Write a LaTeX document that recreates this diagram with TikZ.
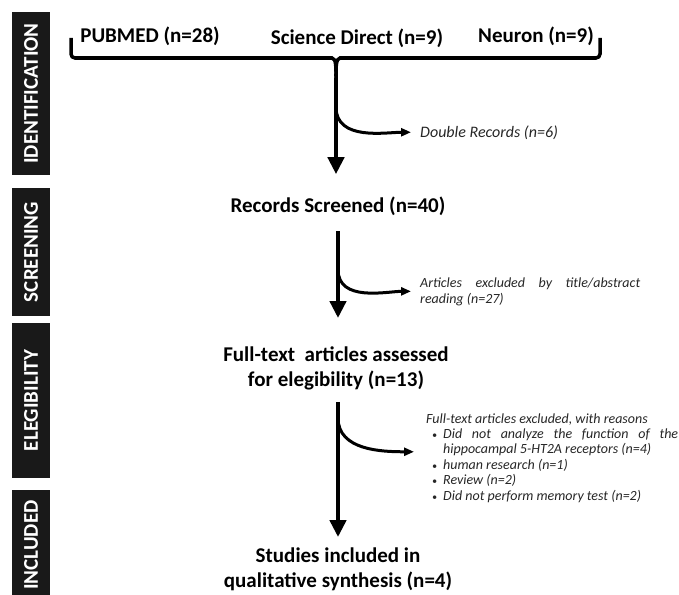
\documentclass[tikz,border=0pt]{standalone}
\usepackage{fontspec}
\setmainfont{Carlito}
\usetikzlibrary{positioning, arrows.meta, calc}

\newcommand{\bul}{\makebox[17pt][l]{\hspace{6pt}{\fontsize{10}{10}\selectfont\textbullet}}}

\tikzset{
  head/.style={font=\fontsize{21}{25}\selectfont\bfseries, inner sep=0pt, align=center, anchor=base},
  note/.style={font=\fontsize{14}{15.4}\selectfont\itshape, inner sep=0pt, align=left, anchor=base west, text=black!85},
  tab/.style={fill=black!90, text=white, font=\fontsize{21}{21}\selectfont\bfseries, rotate=90, minimum height=38pt, inner sep=0pt},
  flow/.style={line width=4.5pt, -{Triangle[width=16pt,length=17pt]}},
  curl/.style={line width=3pt, -{Triangle[width=8pt,length=10pt]}},
  bracket/.style={line width=3.5pt, rounded corners=4pt}
}

\begin{document}
\begin{tikzpicture}[x=1pt, y=-1pt]
  \useasboundingbox (0,0) rectangle (679,594);

  % Phase tabs
  \node[tab, minimum width=163pt] (tabid) at (31,93.5) {IDENTIFICATION};
  \node[tab, minimum width=128pt] (tabscr) at (31,252) {SCREENING};
  \node[tab, minimum width=155pt] (tabelg) at (31,400.5) {ELEGIBILITY};
  \node[tab, minimum width=110pt] (tabinc) at (31,545) {INCLUDED};

  % Sources
  \node[head] (pubmed) at (150,43) {PUBMED (n=28)};
  \node[head] (scidir) at (357,45) {Science Direct (n=9)};
  \node[head] (neuron) at (536,43) {Neuron (n=9)};

  % Bracket
  \coordinate (brl) at (71,38);
  \coordinate (brr) at (600,38);
  \coordinate (brtip) at (336,78);
  \draw[bracket] (brl) |- (328,58) to[out=0, in=90] (brtip);
  \draw[bracket] (brr) |- (344,58) to[out=180, in=90] (brtip);

  % Steps (base = last line)
  \node[head] (screened) at (338,212) {Records Screened (n=40)};
  \node[head] (assessed) at (336,386) {Full-text\ \ articles assessed\\for elegibility (n=13)};
  \node[head] (included) at (338,587) {Studies included in\\qualitative synthesis (n=4)};

  % Exclusions
  \node[note, font=\fontsize{16}{18}\selectfont\itshape] (dbl) at (420,137) {Double Records (n=6)};
  \node[note, font=\fontsize{14}{16}\selectfont\itshape] (abstr) at (420,303)
    {\makebox[220pt][s]{Articles excluded by title/abstract}\\reading (n=27)};
  \node[note] (fulltxt) at (426,500)
    {Full-text articles excluded, with reasons\\
     \bul\makebox[235pt][s]{Did not analyze the function of the}\\
     \hspace*{17pt}hippocampal 5-HT2A receptors (n=4)\\
     \bul human research (n=1)\\
     \bul Review (n=2)\\
     \bul Did not perform memory test (n=2)};

  % Arrows
  \draw[flow, shorten >=22pt] (brtip) -- (brtip |- screened.north);
  \draw[flow, shorten <=16pt, shorten >=28pt] (screened.south) -- (screened.south |- assessed.north);
  \draw[flow, shorten <=12pt, shorten >=10pt] (screened.south |- assessed.south) -- (screened.south |- included.north);

  % Curls
  \draw[curl, shorten >=9pt] ($(brtip)+(0,29)$) to[out=-90, in=180] (dbl.west);
  \draw[curl, shorten >=9pt] ($(screened.south)+(0,54)$) to[out=-90, in=180] (abstr.west);
  \draw[curl] ($(screened.south |- assessed.south)+(0,28)$) to[out=-90, in=180] ($(fulltxt.west)+(-12,-6)$);
\end{tikzpicture}
\end{document}
